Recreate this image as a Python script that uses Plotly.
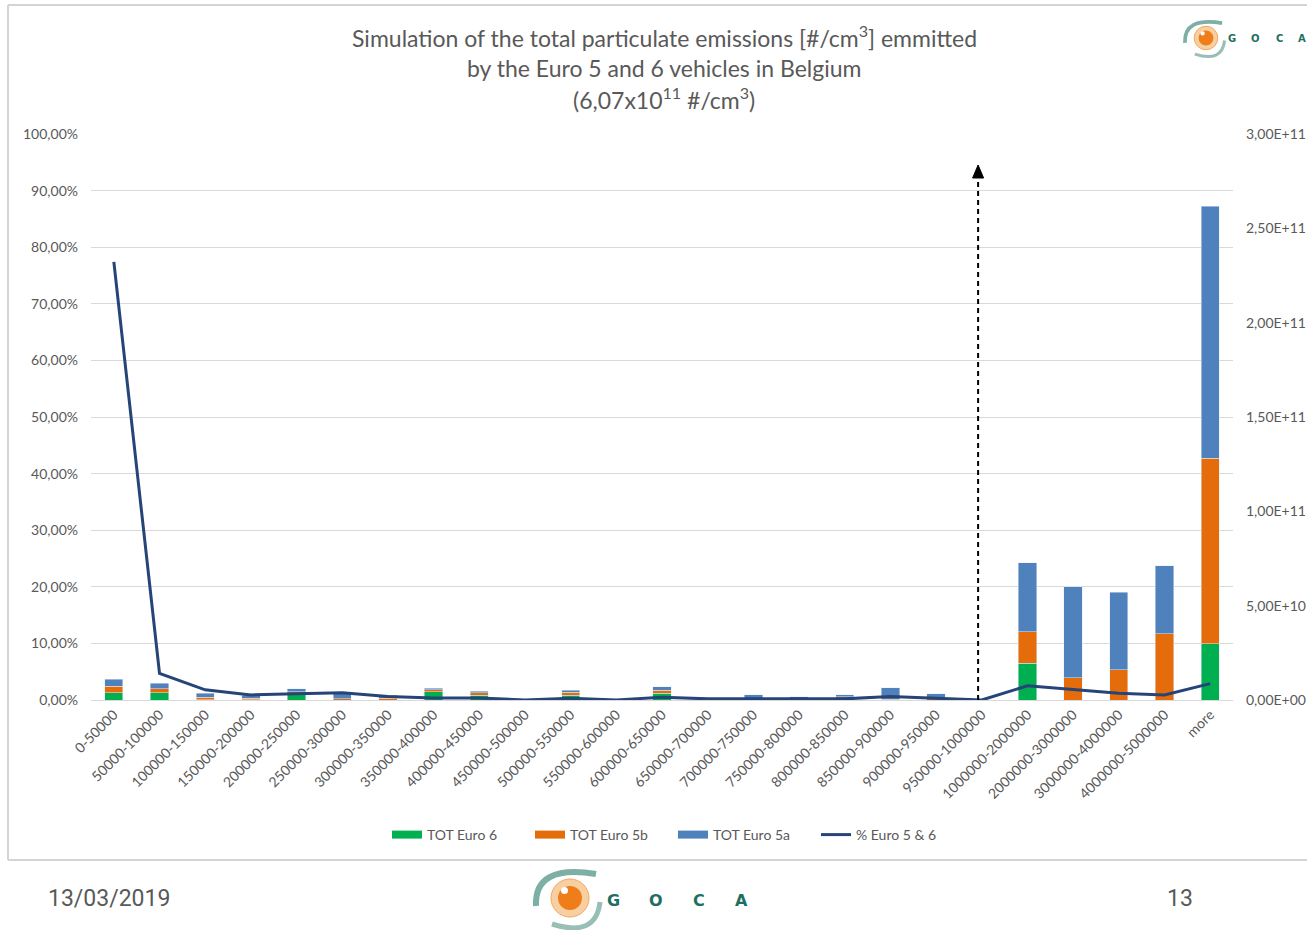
import plotly.graph_objects as go

categories = ["0-50000", "50000-100000", "100000-150000", "150000-200000", "200000-250000",
              "250000-300000", "300000-350000", "350000-400000", "400000-450000", "450000-500000",
              "500000-550000", "550000-600000", "600000-650000", "650000-700000", "700000-750000",
              "750000-800000", "800000-850000", "850000-900000", "900000-950000", "950000-1000000",
              "1000000-2000000", "2000000-3000000", "3000000-4000000", "4000000-5000000", "more"]

tot_euro6 = [3.9e9, 3.9e9, 0.2e9, 0.1e9, 3.5e9, 0.0, 0.0, 4.4e9, 2.6e9, 0.0,
             2.5e9, 0.0, 3.7e9, 0.0, 0.0, 0.0, 0.0, 0.0, 0.0, 0.0,
             19.6e9, 0.0, 0.0, 0.0, 29.7e9]
tot_euro5b = [3.5e9, 2.1e9, 1.2e9, 0.8e9, 0.9e9, 0.6e9, 0.8e9, 1.1e9, 1.2e9, 0.0,
              1.6e9, 0.0, 1.6e9, 0.0, 0.1e9, 0.0, 1.8e9, 0.5e9, 1.5e9, 0.0,
              16.6e9, 11.7e9, 16.1e9, 35.1e9, 98.5e9]
tot_euro5a = [3.5e9, 2.8e9, 2.1e9, 1.5e9, 1.6e9, 3.5e9, 1.8e9, 0.7e9, 0.9e9, 0.0,
              1.1e9, 0.0, 1.6e9, 0.0, 2.6e9, 1.8e9, 1.0e9, 6.0e9, 1.8e9, 0.0,
              36.6e9, 48.4e9, 41.0e9, 36.0e9, 133.6e9]
pct_euro56 = [77.4, 4.7, 1.8, 0.9, 1.1, 1.3, 0.6, 0.35, 0.35, 0.0,
              0.3, 0.0, 0.5, 0.2, 0.2, 0.2, 0.2, 0.6, 0.3, 0.0,
              2.5, 1.8, 1.2, 0.9, 2.9]

left_ticks = [0, 10, 20, 30, 40, 50, 60, 70, 80, 90, 100]
left_labels = ["0,00%", "10,00%", "20,00%", "30,00%", "40,00%", "50,00%",
               "60,00%", "70,00%", "80,00%", "90,00%", "100,00%"]
right_ticks = [0, 5e10, 1e11, 1.5e11, 2e11, 2.5e11, 3e11]
right_labels = ["0,00E+00", "5,00E+10", "1,00E+11", "1,50E+11", "2,00E+11", "2,50E+11", "3,00E+11"]

FONT = "Lato, 'Open Sans', sans-serif"
GRAY = "#595959"
C6, C5B, C5A, CL = "#00b050", "#e46c0a", "#4f81bd", "#264478"

W, H = 1307, 930
L, R, T, B = 91, 1233, 134, 700


def px(x):
    return (x - L) / (R - L)


def py(y):
    return (B - y) / (B - T)


fig = go.Figure()
fig.add_trace(go.Bar(x=categories, y=tot_euro6, name="TOT Euro 6", marker_color=C6, yaxis="y", showlegend=False))
fig.add_trace(go.Bar(x=categories, y=tot_euro5b, name="TOT Euro 5b", marker_color=C5B, yaxis="y", showlegend=False))
fig.add_trace(go.Bar(x=categories, y=tot_euro5a, name="TOT Euro 5a", marker_color=C5A, yaxis="y", showlegend=False))
fig.add_trace(go.Scatter(x=categories, y=pct_euro56, name="% Euro 5 & 6", mode="lines",
                         line=dict(color=CL, width=3), yaxis="y2", showlegend=False))
for nm, col, wd in [("TOT Euro 6", C6, 8), ("TOT Euro 5b", C5B, 8), ("TOT Euro 5a", C5A, 8), ("% Euro 5 & 6", CL, 3)]:
    fig.add_trace(go.Scatter(x=[None], y=[None], name=nm, mode="lines", line=dict(color=col, width=wd),
                             yaxis="y2", showlegend=True))

shapes = []
frame = dict(type="line", xref="paper", yref="paper", line=dict(color="#d4d4d4", width=2), layer="below")
shapes.append(dict(frame, x0=px(8), x1=px(1310), y0=py(5), y1=py(5)))
shapes.append(dict(frame, x0=px(8), x1=px(8), y0=py(5), y1=py(860)))
shapes.append(dict(frame, x0=px(8), x1=px(1310), y0=py(860), y1=py(860)))

ARROW_X = 18.92
shapes.append(dict(type="line", xref="x", yref="y2", x0=ARROW_X, x1=ARROW_X, y0=0, y1=92.0,
                   line=dict(color="black", width=2, dash="5px,4px")))
ax_px = L + (ARROW_X + 0.5) * (R - L) / len(categories)
shapes.append(dict(type="path", xref="paper", yref="paper",
                   path=f"M {px(ax_px)},{py(165)} L {px(ax_px-5.5)},{py(178)} L {px(ax_px+5.5)},{py(178)} Z",
                   fillcolor="black", line=dict(color="black", width=1)))


def logo(cx, cy, s):
    out = []
    out.append(dict(type="path", xref="paper", yref="paper",
                    path=f"M {px(cx-34*s)},{py(cy+8*s)} Q {px(cx-36*s)},{py(cy-34*s)} {px(cx+26*s)},{py(cy-24*s)}",
                    line=dict(color="#5e9c8f", width=6 * s), opacity=0.8))
    out.append(dict(type="path", xref="paper", yref="paper",
                    path=f"M {px(cx-18*s)},{py(cy+26*s)} Q {px(cx+26*s)},{py(cy+40*s)} {px(cx+30*s)},{py(cy+4*s)}",
                    line=dict(color="#7fb0a5", width=5 * s), opacity=0.8))
    out.append(dict(type="circle", xref="paper", yref="paper",
                    x0=px(cx-19*s), x1=px(cx+19*s), y0=py(cy+19*s), y1=py(cy-19*s),
                    fillcolor="#f8cfa0", line=dict(color="#f0a860", width=1)))
    out.append(dict(type="circle", xref="paper", yref="paper",
                    x0=px(cx-12*s), x1=px(cx+12*s), y0=py(cy+12*s), y1=py(cy-12*s),
                    fillcolor="#ee7d1a", line=dict(width=0)))
    out.append(dict(type="circle", xref="paper", yref="paper",
                    x0=px(cx-9*s), x1=px(cx-2*s), y0=py(cy-4*s), y1=py(cy-11*s),
                    fillcolor="white", line=dict(width=0)))
    return out


shapes += logo(570, 898, 1.0)
shapes += logo(1206, 38, 0.62)

annotations = []
for lx, ch in zip([613, 656, 699, 741], "GOCA"):
    annotations.append(dict(x=px(lx), y=py(900), xref="paper", yref="paper", text=f"<b>{ch}</b>",
                            xanchor="center", yanchor="middle", showarrow=False,
                            font=dict(family="'DejaVu Sans', sans-serif", size=16, color="#1f6e62")))
for lx, ch in zip([1232, 1255, 1279, 1302], "GOCA"):
    annotations.append(dict(x=px(lx), y=py(39), xref="paper", yref="paper", text=f"<b>{ch}</b>",
                            xanchor="center", yanchor="middle", showarrow=False,
                            font=dict(family="'DejaVu Sans', sans-serif", size=10, color="#1f6e62")))
annotations.append(dict(x=px(46), y=py(898), xref="paper", yref="paper", text="13/03/2019",
                        xanchor="left", yanchor="middle", showarrow=False,
                        font=dict(family="'Liberation Sans Narrow', 'Roboto', sans-serif", size=23, color=GRAY)))
annotations.append(dict(x=px(1180), y=py(898), xref="paper", yref="paper", text="13",
                        xanchor="center", yanchor="middle", showarrow=False,
                        font=dict(family="'Liberation Sans Narrow', 'Roboto', sans-serif", size=23, color=GRAY)))
title_lines = ["Simulation of the total particulate emissions [#/cm<sup>3</sup>] emmitted",
               "by the Euro 5 and 6 vehicles in Belgium",
               "(6,07x10<sup>11</sup> #/cm<sup>3</sup>)"]
for i, t in enumerate(title_lines):
    annotations.append(dict(x=px(664), y=py(37 + 30.5 * i), xref="paper", yref="paper", text=t,
                            xanchor="center", yanchor="middle", showarrow=False,
                            font=dict(family=FONT, size=23, color=GRAY)))

fig.update_layout(
    width=W, height=H,
    margin=dict(l=L, r=W - R, t=T, b=H - B, autoexpand=False),
    paper_bgcolor="white", plot_bgcolor="white",
    barmode="stack", bargap=0.6,
    font=dict(family=FONT, size=14, color=GRAY),
    xaxis=dict(type="category", tickangle=-45, tickfont=dict(size=14, color=GRAY),
               showline=True, linecolor="#d9d9d9", linewidth=1, ticks="", showgrid=False),
    yaxis=dict(side="right", range=[0, 3e11], tickvals=right_ticks, ticktext=right_labels,
               showgrid=False, zeroline=False, tickfont=dict(size=14, color=GRAY), ticks="",
               ticklabelstandoff=12),
    yaxis2=dict(side="left", overlaying="y", range=[0, 100], tickvals=left_ticks, ticktext=left_labels,
                showgrid=True, gridcolor="#d9d9d9", gridwidth=1, zeroline=False,
                tickfont=dict(size=14, color=GRAY), ticks="", ticklabelstandoff=12),
    legend=dict(orientation="h", x=px(673), xanchor="center", y=py(835), yanchor="middle",
                font=dict(size=14, color=GRAY), traceorder="normal", itemwidth=30,
                entrywidth=98, entrywidthmode="pixels"),
    shapes=shapes, annotations=annotations,
    showlegend=True,
)

fig.write_html("out.html", config={"displayModeBar": False},
               post_script="document.body.style.margin='0';document.body.style.overflow='hidden';")
